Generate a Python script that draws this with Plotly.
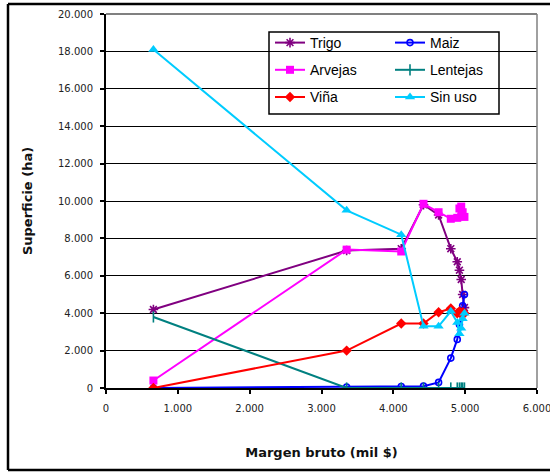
import plotly.graph_objects as go

# ---- data ----
margen_bruto = [660, 3350, 4110, 4420, 4630, 4800, 4890, 4920, 4945, 4965, 4990]
trigo    = [4200, 7350, 7450, 9800, 9250, 7450, 6750, 6300, 5800, 5000, 4300]
maiz     = [0, 50, 80, 100, 300, 1600, 2600, 3400, 4000, 4400, 5000]
arvejas  = [400, 7400, 7300, 9850, 9400, 9050, 9100, 9600, 9700, 9400, 9150]
lentejas = [3800, 0, 0, 0, 0, 0, 0, 0, 0, 0, 0]
vina     = [0, 2000, 3450, 3450, 4050, 4250, 4000, 4100, 3950, 4050, 4000]
sin_uso  = [18100, 9500, 8200, 3300, 3300, 4100, 3500, 2900, 3200, 3700, 4000]

x_ticks = [0, 1000, 2000, 3000, 4000, 5000, 6000]
x_tick_labels = ["0", "1.000", "2.000", "3.000", "4.000", "5.000", "6.000"]
y_ticks = [0, 2000, 4000, 6000, 8000, 10000, 12000, 14000, 16000, 18000, 20000]
y_tick_labels = ["0", "2.000", "4.000", "6.000", "8.000", "10.000", "12.000",
                 "14.000", "16.000", "18.000", "20.000"]

# ---- layout geometry (pixels) ----
W, H = 550, 475
L, R, T, B = 106, 537, 14, 388
pw, ph = R - L, B - T

def px(xp):
    return (xp - L) / pw

def py(yp):
    return (B - yp) / ph

series = [
    ("Trigo", trigo, "#800080", dict(symbol="asterisk-open", size=8, line=dict(width=1.6, color="#800080")), "legend"),
    ("Maiz", maiz, "#0000FF", dict(symbol="circle-open", size=6, line=dict(width=1.6, color="#0000FF")), "legend2"),
    ("Arvejas", arvejas, "#FF00FF", dict(symbol="square", size=8, color="#FF00FF"), "legend"),
    ("Lentejas", lentejas, "#008080", dict(symbol="line-ns-open", size=8, line=dict(width=1.6, color="#008080")), "legend2"),
    ("Viña", vina, "#FF0000", dict(symbol="diamond", size=8, color="#FF0000"), "legend"),
    ("Sin uso", sin_uso, "#00CCFF", dict(symbol="triangle-up", size=9, color="#00CCFF"), "legend2"),
]

fig = go.Figure()
for name, vals, col, mk, lg in series:
    fig.add_trace(go.Scatter(
        x=margen_bruto, y=vals, name=name, mode="lines+markers",
        line=dict(color=col, width=2), marker=mk,
        legend=lg, legendgroup=name,
    ))

tickfont = dict(family="DejaVu Sans", size=10, color="#222222")
titlefont = dict(family="DejaVu Sans", size=13, color="#111111", weight="bold")

frame = dict(color="black", width=2.5)

fig.update_layout(
    width=W, height=H,
    margin=dict(l=L, r=W - R, t=T, b=H - B, pad=0, autoexpand=False),
    paper_bgcolor="white", plot_bgcolor="white",
    showlegend=True,
    xaxis=dict(
        range=[0, 6000], tickvals=x_ticks, ticktext=x_tick_labels,
        showgrid=False, zeroline=False, automargin=False,
        showline=True, linecolor="black", linewidth=2,
        ticks="outside", ticklen=4, tickwidth=1.5, tickcolor="black",
        tickfont=tickfont, ticklabelstandoff=6, ticklabeloverflow="allow",
        title=dict(text="Margen bruto (mil $)", font=titlefont, standoff=35),
    ),
    yaxis=dict(
        range=[0, 20000], tickvals=y_ticks, ticktext=y_tick_labels,
        showgrid=True, gridcolor="black", gridwidth=1.2, zeroline=False, automargin=False,
        showline=True, linecolor="black", linewidth=2,
        ticks="outside", ticklen=4, tickwidth=1.5, tickcolor="black",
        tickfont=tickfont, ticklabelstandoff=5, ticklabeloverflow="allow",
        title=dict(text="Superficie (ha)", font=titlefont, standoff=22),
    ),
    legend=dict(
        x=px(270), y=py(27), xanchor="left", yanchor="top",
        bgcolor="rgba(0,0,0,0)", borderwidth=0,
        font=dict(family="Liberation Sans", size=14, color="black"),
        tracegroupgap=6, traceorder="grouped",
    ),
    legend2=dict(
        x=px(390), y=py(27), xanchor="left", yanchor="top",
        bgcolor="rgba(0,0,0,0)", borderwidth=0,
        font=dict(family="Liberation Sans", size=14, color="black"),
        tracegroupgap=6, traceorder="grouped",
    ),
    shapes=[
        # outer chart frame (open on the right, as in the cropped original)
        dict(type="line", xref="paper", yref="paper",
             x0=px(8), x1=px(560), y0=py(4), y1=py(4), line=frame, layer="above"),
        dict(type="line", xref="paper", yref="paper",
             x0=px(8), x1=px(560), y0=py(470), y1=py(470), line=frame, layer="above"),
        dict(type="line", xref="paper", yref="paper",
             x0=px(8), x1=px(8), y0=py(470), y1=py(4), line=frame, layer="above"),
        # plot area top and right border (gray)
        dict(type="line", xref="paper", yref="paper",
             x0=0, x1=1, y0=1, y1=1, line=dict(color="#808080", width=2), layer="above"),
        dict(type="line", xref="paper", yref="paper",
             x0=1, x1=1, y0=0, y1=1, line=dict(color="#808080", width=1.5), layer="above"),
        # legend box
        dict(type="rect", xref="paper", yref="paper",
             x0=px(269), x1=px(499), y0=py(114), y1=py(32),
             line=dict(color="black", width=1.5), fillcolor="white", layer="below"),
    ],
)

fig.write_html("out.html")
